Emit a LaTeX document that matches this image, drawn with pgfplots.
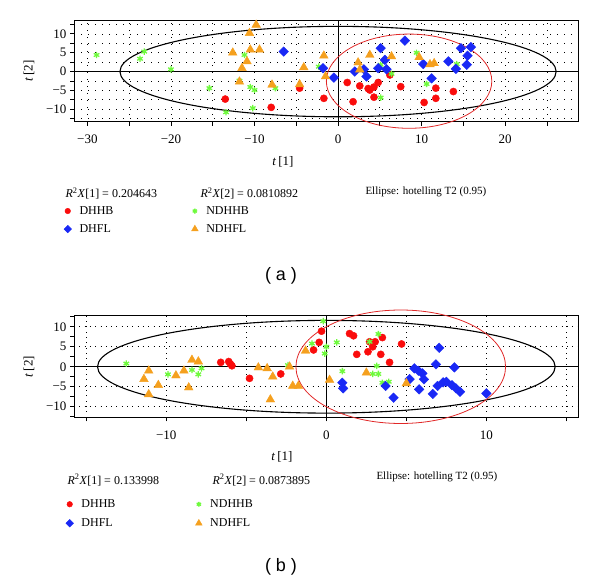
\documentclass[border=0pt]{standalone}
\usepackage{fontspec}
\setmainfont{Liberation Serif}
\newfontfamily\labfont{Liberation Sans}
\usepackage{pgfplots}
\pgfplotsset{compat=1.18}
\usepackage{pgfplotstable}

\definecolor{cR}{RGB}{250,12,12}
\definecolor{cB}{RGB}{25,40,245}
\definecolor{cG}{RGB}{110,250,60}
\definecolor{cO}{RGB}{245,160,30}
\definecolor{cE}{RGB}{225,40,40}

% ---------- panel (a) data ----------
\pgfplotstableread{
x y
-13.5 -7.3
-8.0 -9.5
-4.6 -4.4
6.2 -0.9
1.1 -2.9
2.6 -3.8
3.8 -4.9
4.3 -4.1
4.8 -2.9
3.6 -4.5
4.3 -6.8
1.8 -8.0
-1.7 -7.1
7.5 -4.0
11.7 -4.4
11.7 -7.1
10.3 -8.2
13.8 -5.3
}\aDHHB
\pgfplotstableread{
x y
-6.5 5.3
-1.8 0.9
-0.5 -1.6
2.0 0.0
3.1 0.6
3.4 -1.3
5.1 6.2
5.6 3.1
4.8 0.9
5.8 0.6
8.0 8.2
10.2 2.0
11.2 -1.8
13.2 2.7
14.1 0.7
14.7 6.2
15.9 6.5
15.5 4.2
15.4 1.8
}\aDHFL
\pgfplotstableread{
x y
-28.9 4.4
-23.2 5.3
-23.7 3.4
-20.0 0.6
-15.4 -4.4
-13.4 -10.8
-11.2 4.4
-11.8 -2.4
-10.5 -4.1
-10.0 -4.9
-10.2 -9.7
-7.5 -4.4
-2.3 1.3
5.1 1.8
6.4 -0.6
9.4 5.0
14.2 2.0
10.6 -3.3
5.1 -6.9
}\aNDHHB
\pgfplotstableread{
x y
-9.8 12.4
-10.6 10.2
-12.6 5.0
-10.5 5.8
-9.4 5.8
-10.9 2.7
-11.5 0.9
-11.8 -2.7
-7.9 -3.5
-4.6 -3.4
-4.1 1.1
-1.7 4.2
-1.5 -1.3
2.4 2.4
2.6 0.5
3.8 4.4
6.4 4.0
9.7 3.8
11.0 1.9
11.5 2.2
}\aNDHFL

% ---------- panel (b) data ----------
\pgfplotstableread{
x y
-6.6 1.1
-6.1 1.3
-6.0 0.7
-5.9 0.25
-4.8 -2.9
-2.85 -1.8
-0.3 8.9
-0.45 6.1
-0.8 4.2
1.45 8.3
1.7 7.75
2.7 6.25
3.05 6.25
3.5 7.3
2.9 5.0
2.6 3.75
1.9 3.1
3.4 3.1
3.95 1.1
4.7 5.7
}\bDHHB
\pgfplotstableread{
x y
1.0 -4.0
1.05 -5.4
3.7 -4.8
4.2 -7.75
5.2 -3.1
5.5 -0.4
5.75 -1.0
6.0 -1.65
6.1 -3.15
5.8 -5.65
6.65 -6.8
6.95 -4.8
6.85 0.6
7.05 4.75
7.5 -3.75
8.0 -0.15
7.85 -4.6
8.1 -5.4
8.35 -6.25
10.0 -6.65
7.3 -3.9
}\bDHFL
\pgfplotstableread{
x y
-12.5 0.8
-9.9 -1.9
-8.4 -0.8
-8.0 -1.9
-7.8 -0.4
-2.4 0.4
-0.2 11.4
-0.9 5.8
0.0 5.0
-0.1 3.3
0.65 6.1
1.0 -1.1
2.7 6.25
3.25 8.2
3.15 0.2
3.25 -1.8
2.9 -1.8
3.5 -4.0
3.9 -3.75
}\bNDHHB
\pgfplotstableread{
x y
-11.1 -1.0
-11.4 -3.1
-10.5 -4.6
-11.1 -6.9
-9.4 -2.2
-8.9 -1.0
-8.6 -5.2
-8.4 1.7
-8.0 1.3
-4.25 -0.2
-3.7 -0.4
-3.35 -2.5
-3.5 -8.2
-2.3 0.0
-2.1 -4.8
-1.75 -4.8
-1.3 4.0
0.2 -3.3
2.5 -1.5
5.0 -4.15
}\bNDHFL

\pgfplotsset{
  pcastyle/.style={
    scale only axis, width=504.7bp, anchor=south west,
    clip=false,
    axis line style={line width=1bp, black},
    tick align=outside, xtick pos=bottom, ytick pos=left,
    major tick length=4bp, minor tick length=4bp,
    every tick/.style={black, line width=0.8bp},
    /pgf/number format/assume math mode=true,
    tick label style={font=\fontsize{13bp}{15bp}\selectfont},
    label style={font=\fontsize{13bp}{15bp}\selectfont},
    ytick={-10,-5,0,5,10}, yticklabels={−10,−5,0,5,10},
    minor ytick={-12.5,-7.5,-2.5,2.5,7.5,12.5},
    ylabel={\textit{t}\,[2]}, xlabel={\textit{t}\,[1]},
    xticklabel style={yshift=-6bp},
    legend columns=2,
    legend cell align=left,
    legend style={draw=none, fill=none, anchor=north west, inner sep=0pt, outer sep=0pt,
      nodes={inner sep=0pt, text height=8bp, text depth=2bp},
      /tikz/every odd column/.append style={column sep=8bp}},
    legend image code/.code={\draw[mark repeat=2,mark phase=2,##1] plot coordinates {(0bp,0bp)(4bp,0bp)(8bp,0bp)};},
    legend image post style={every mark/.append style={scale=0.78}},
  },
  sR/.style={only marks, mark=*, mark size=3.6bp, draw=cR, fill=cR},
  sB/.style={only marks, mark=square*, mark size=3.4bp, draw=cB, fill=cB, mark options={rotate=45}},
  sG/.style={only marks, mark=asterisk, mark size=3.2bp, draw=cG, line width=1.3bp},
  sO/.style={only marks, mark=triangle*, mark size=5bp, draw=cO, fill=cO},
}

\begin{document}
\begin{tikzpicture}[font=\fontsize{12bp}{14bp}\selectfont]
\path[use as bounding box] (0,0) rectangle (600bp,583bp);

% ================= panel (a) =================
\begin{axis}[pcastyle, at={(74bp,461.3bp)}, height=101bp,
  xmin=-31.6, xmax=28.8, ymin=-13.3, ymax=13.5,
  xtick={-30,-20,-10,0,10,20}, xticklabels={−30,−20,−10,0,10,20},
  minor xtick={-25,-15,-5,5,15,25},
  grid=both,
  major grid style={black, line width=0.7bp, dash pattern=on 0.7bp off 6.3bp},
  minor grid style={black, line width=0.7bp, dash pattern=on 0.7bp off 6.3bp},
  ylabel style={at={(axis description cs:-0.089,0.5)}, anchor=center},
  xlabel style={at={(axis description cs:0.414,-0.396)}, anchor=center},
  legend style={at={(-0.0198,-0.835)}, row sep=8bp, /tikz/every even column/.append style={column sep=78bp}},
]
\draw[black, line width=0.9bp] (axis cs:-31.6,0) -- (axis cs:28.8,0);
\draw[black, line width=0.9bp] (axis cs:0,-13.3) -- (axis cs:0,13.5);
\draw[black, line width=1.1bp] (axis cs:0,0) ellipse [x radius=26.1, y radius=12];
\addplot[sR] table {\aDHHB}; \addlegendentry{DHHB}
\addplot[sG] table {\aNDHHB}; \addlegendentry{NDHHB}
\addplot[sB] table {\aDHFL}; \addlegendentry{DHFL}
\addplot[sO] table {\aNDHFL}; \addlegendentry{NDHFL}
\draw[cE, line width=0.8bp] (axis cs:8.5,-2.55) ellipse [x radius=9.9, y radius=12.5];
\end{axis}

\node[anchor=west] at (62bp,389.7bp) {\textit{R}\textsuperscript{2}\textit{X}[1] = 0.204643};
\node[anchor=west] at (197bp,389.7bp) {\textit{R}\textsuperscript{2}\textit{X}[2] = 0.0810892};
\node[anchor=west, font=\fontsize{11bp}{13bp}\selectfont] at (362bp,391.3bp) {Ellipse: hotelling T2 (0.95)};
\node[font=\labfont\fontsize{18bp}{20bp}\selectfont] at (281bp,307.3bp) {( a )};

% ================= panel (b) =================
\begin{axis}[pcastyle, at={(74bp,165.7bp)}, height=101.3bp,
  xmin=-15.77, xmax=15.77, ymin=-12.65, ymax=12.7,
  xtick={-10,0,10}, xticklabels={−10,0,10},
  minor xtick={-15,-5,5,15},
  xmajorgrids, xminorgrids, ymajorgrids,
  major grid style={black, line width=0.7bp, dash pattern=on 0.7bp off 4.6bp},
  minor grid style={black, line width=0.7bp, dash pattern=on 0.7bp off 4.6bp},
  ylabel style={at={(axis description cs:-0.089,0.5)}, anchor=center},
  xlabel style={at={(axis description cs:0.412,-0.389)}, anchor=center},
  legend style={at={(-0.0159,-0.809)}, row sep=9bp, /tikz/every even column/.append style={column sep=80bp}},
]
\draw[black, line width=0.9bp] (axis cs:-15.77,0) -- (axis cs:15.77,0);
\draw[black, line width=0.9bp] (axis cs:0,-12.65) -- (axis cs:0,12.7);
\draw[black, line width=1.1bp] (axis cs:0,0) ellipse [x radius=14.3, y radius=11.6];
\addplot[sR] table {\bDHHB}; \addlegendentry{DHHB}
\addplot[sG] table {\bNDHHB}; \addlegendentry{NDHHB}
\addplot[sB] table {\bDHFL}; \addlegendentry{DHFL}
\addplot[sO] table {\bNDHFL}; \addlegendentry{NDHFL}
\draw[cE, line width=0.8bp] (axis cs:4.65,0) ellipse [x radius=6.55, y radius=14.2];
\end{axis}

\node[anchor=west] at (64bp,103bp) {\textit{R}\textsuperscript{2}\textit{X}[1] = 0.133998};
\node[anchor=west] at (209bp,103bp) {\textit{R}\textsuperscript{2}\textit{X}[2] = 0.0873895};
\node[anchor=west, font=\fontsize{11bp}{13bp}\selectfont] at (373bp,106.3bp) {Ellipse: hotelling T2 (0.95)};
\node[font=\labfont\fontsize{18bp}{20bp}\selectfont] at (281bp,16.3bp) {( b )};
\end{tikzpicture}
\end{document}
